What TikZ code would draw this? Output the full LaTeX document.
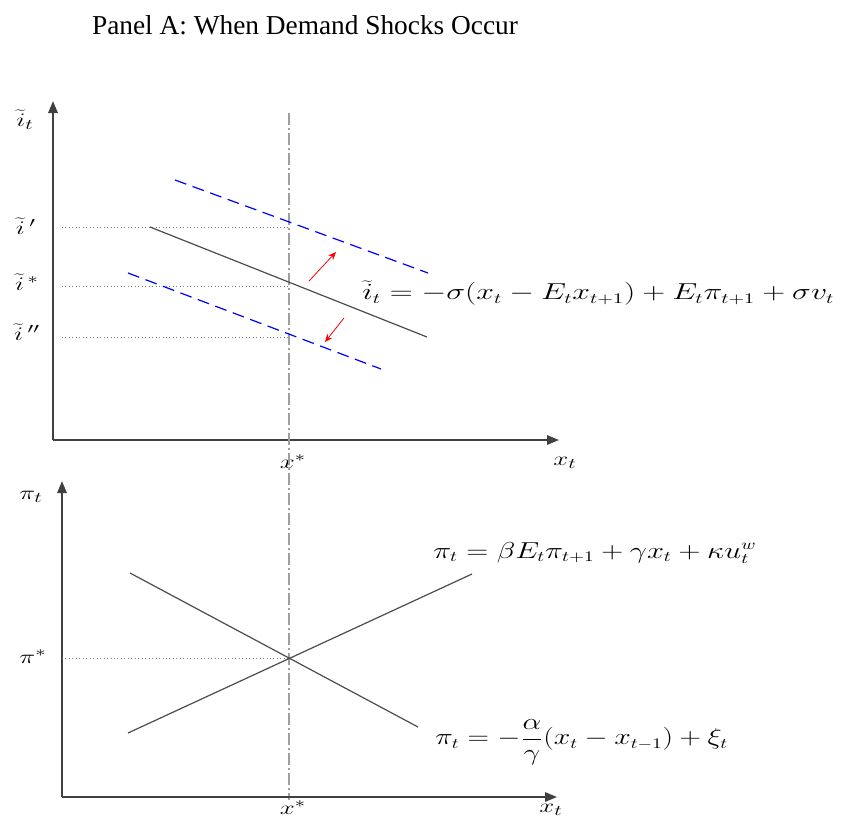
\documentclass[tikz,border=0pt]{standalone}
\usepackage{fontspec}
\usepackage{graphicx}
\setmainfont{Liberation Serif}
\usetikzlibrary{arrows.meta}
% breite Formeln wie im Original
\newcommand{\wideeq}[2][1.4]{\scalebox{#1}[1]{#2}}
\begin{document}
\begin{tikzpicture}[x=0.75pt,y=-0.75pt,
    axis/.style={line width=1.5pt, black!75, -{Triangle[length=9pt,width=7pt]}},
    guide/.style={dotted, gray, line width=0.6pt},
    shifted/.style={blue, dash pattern=on 9pt off 5pt, line width=0.9pt},
    curve/.style={black!70, line width=0.9pt},
    shock/.style={red, line width=0.6pt, -{Stealth[length=6pt,width=5pt]}},
    lab/.style={font=\fontsize{15}{17}\selectfont, inner sep=1pt},
    eq/.style={font=\fontsize{16}{19}\selectfont, inner sep=0pt, anchor=west}]
    \useasboundingbox (0,0) rectangle (841,821);

    % titel
    \node[font=\fontsize{20.5}{24}\selectfont] (title) at (305,25) {Panel A: When Demand Shocks Occur};

    % oberes Diagramm: Achsen
    \coordinate (O1) at (53,440);
    \coordinate (Y1) at (53,101);
    \coordinate (X1) at (559,440);
    \draw[axis] (O1) -- (Y1);
    \draw[axis] (O1) -- (X1);
    \node[lab] (ilab) at (25,120) {\wideeq{$\widetilde{i}_t$}};
    \node[lab] (x1lab) at (565,463) {\wideeq{$x_t$}};
    \node[lab] (xstar1) at (293,462) {\wideeq{$x^{*}$}};

    % senkrechte Linie bei x*
    \coordinate (vtop) at (289,113);
    \coordinate (vbot) at (289,800);
    \draw[gray!75, line width=2.2pt, dash pattern=on 9pt off 2.5pt on 1pt off 2.5pt] (vtop) -- (vbot);

    % Zinsniveaus
    \coordinate (ihi) at (62,227);
    \coordinate (imid) at (62,286);
    \coordinate (ilo) at (62,337);
    \foreach \c in {ihi,imid,ilo}
        \draw[guide] (\c) -- (\c -| vtop);
    \node[lab] (ihilab) at (26,226) {\wideeq{$\widetilde{i}\,'$}};
    \node[lab] (imidlab) at (27,282) {\wideeq{$\widetilde{i}^{\,*}$}};
    \node[lab] (ilolab) at (27,332) {\wideeq{$\widetilde{i}\,''$}};

    % IS-Kurve und Verschiebungen
    \coordinate (is1) at (150,227);
    \coordinate (is2) at (427,337);
    \draw[curve] (is1) -- (is2);
    \coordinate (up1) at (175,180);
    \coordinate (up2) at (428,273);
    \draw[shifted] (up1) -- (up2);
    \coordinate (dn1) at (128,273);
    \coordinate (dn2) at (381,369);
    \draw[shifted] (dn1) -- (dn2);

    % Schocks
    \coordinate (s1a) at (309,281);
    \coordinate (s1b) at (336,252);
    \draw[shock] (s1a) -- (s1b);
    \coordinate (s2a) at (344,318);
    \coordinate (s2b) at (325,342);
    \draw[shock] (s2a) -- (s2b);

    \node[eq] (iseq) at (362,293) {\wideeq[1.38]{$\widetilde{i}_t = -\sigma(x_t - E_t x_{t+1}) + E_t\pi_{t+1} + \sigma v_t$}};

    % unteres Diagramm: Achsen
    \coordinate (O2) at (62,797);
    \coordinate (Y2) at (62,481);
    \coordinate (X2) at (557,797);
    \draw[axis] (O2) -- (Y2);
    \draw[axis] (O2) -- (X2);
    \node[lab] (pilab) at (31,497) {\wideeq{$\pi_t$}};
    \node[lab] (x2lab) at (551,810) {\wideeq{$x_t$}};
    \node[lab] (xstar2) at (293,808) {\wideeq{$x^{*}$}};

    % Inflationsniveau
    \coordinate (pist) at (62,658);
    \draw[guide] (pist) -- (pist -| vtop);
    \node[lab] (pistlab) at (33,657) {\wideeq{$\pi^{*}$}};

    % Phillips-Kurve und Zielregel
    \coordinate (pc1) at (128,733);
    \coordinate (pc2) at (472,574);
    \draw[curve] (pc1) -- (pc2);
    \coordinate (tr1) at (130,573);
    \coordinate (tr2) at (418,727);
    \draw[curve] (tr1) -- (tr2);

    \node[eq] (pceq) at (433,553) {\wideeq[1.32]{$\pi_t = \beta E_t\pi_{t+1} + \gamma x_t + \kappa u_t^{w}$}};
    \node[eq] (treq) at (435,742) {\wideeq[1.29]{$\pi_t = -\displaystyle\frac{\alpha}{\gamma}(x_t - x_{t-1}) + \xi_t$}};
\end{tikzpicture}
\end{document}
